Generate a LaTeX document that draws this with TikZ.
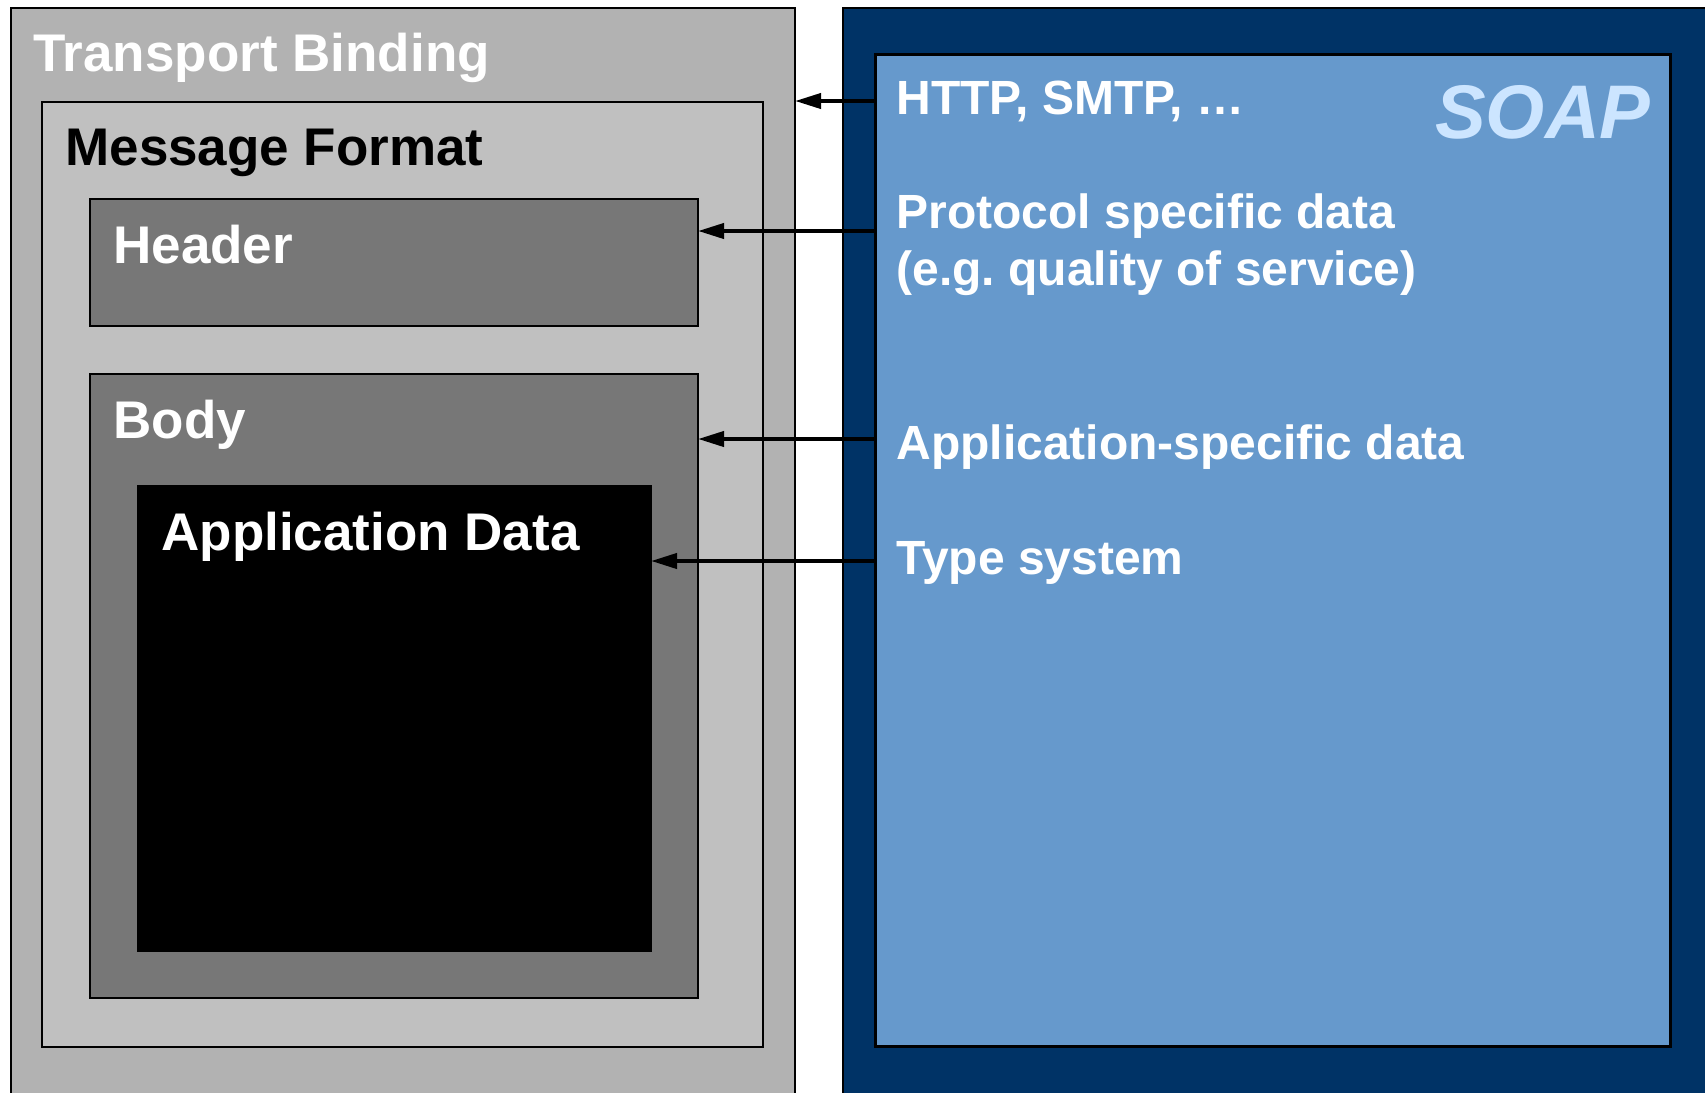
\documentclass[tikz,border=0pt]{standalone}
\usepackage{fontspec}
\setmainfont{Liberation Sans}
\usetikzlibrary{arrows.meta,fit}
\definecolor{tbgray}{HTML}{B2B2B2}
\definecolor{mfgray}{HTML}{C0C0C0}
\definecolor{hdgray}{HTML}{777777}
\definecolor{soapdark}{HTML}{003366}
\definecolor{soapmid}{HTML}{6699CC}
\definecolor{soaptxt}{HTML}{CCE5FF}
\tikzset{
  box/.style={draw=black, line width=1.1pt, inner sep=0pt, outer sep=0pt},
  bigtxt/.style={font=\fontsize{26.5}{32}\selectfont\bfseries, inner sep=0pt, anchor=base west},
  smtxt/.style={font=\fontsize{24}{28.5}\selectfont\bfseries, text=white, inner sep=0pt, anchor=base west},
  arr/.style={line width=2pt, -{Triangle[length=13pt,width=7.5pt]}}
}
\begin{document}
\frenchspacing
\begin{tikzpicture}[x=0.5pt,y=-0.5pt]
\clip (0,0) rectangle (1705,1093);
\fill[white] (0,0) rectangle (1705,1093);
% left side
\node[box, fill=tbgray, fit={(11,8) (795,1110)}] (transport) {};
\node[box, fill=mfgray, fit={(42,102) (763,1047)}] (msg) {};
\node[box, fill=hdgray, fit={(90,199) (698,326)}] (header) {};
\node[box, fill=hdgray, fit={(90,374) (698,998)}] (body) {};
\node[box, fill=black, fit={(138,486) (651,951)}] (appdata) {};
% right side
\node[box, line width=0.8pt, fill=soapdark, fit={(843,8) (1720,1110)}] (soapout) {};
\node[box, line width=1.5pt, fill=soapmid, fit={(875,54) (1670,1046)}] (soapin) {};
% texts
\node[bigtxt, text=white] (ttb) at (33,71) {Transport Binding};
\node[bigtxt, text=black] (tmf) at (65,165) {Message Format};
\node[bigtxt, text=white] (thd) at (113,263) {Header};
\node[bigtxt, text=white] (tbd) at (113,438) {Body};
\node[bigtxt, text=white] (tad) at (161,550) {Application Data};
\node[smtxt] (thttp) at (896,114) {HTTP, SMTP, …};
\node[smtxt] (tprot) at (896,228) {Protocol specific data};
\node[smtxt] (tprot2) at (896,285) {(e.g. quality of service)};
\node[smtxt] (tapp) at (896,459) {Application-specific data};
\node[smtxt] (ttype) at (896,574) {Type system};
\node[font=\fontsize{38}{40}\selectfont\bfseries\itshape, text=soaptxt, inner sep=0pt, anchor=base east] (tsoap) at (1651,138) {SOAP};
% arrows
\draw[arr] (soapin.west |- 0,101) -- (transport.east |- 0,101);
\draw[arr] (soapin.west |- 0,231) -- (header.east |- 0,231);
\draw[arr] (soapin.west |- 0,439) -- (body.east |- 0,439);
\draw[arr] (soapin.west |- 0,561) -- (appdata.east |- 0,561);
\end{tikzpicture}
\end{document}
